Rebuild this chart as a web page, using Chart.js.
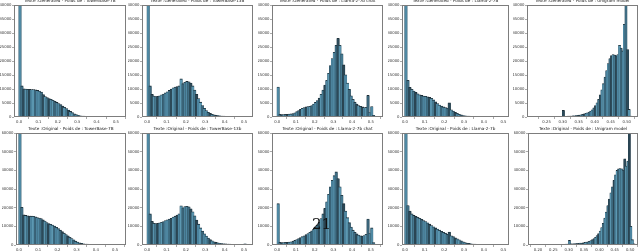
<!DOCTYPE html>
<html>
<head>
<meta charset="utf-8">
<script src="https://cdn.jsdelivr.net/npm/chart.js@4.4.1/dist/chart.umd.min.js"></script>
<style>
  html, body { margin: 0; padding: 0; background: #fff; }
  #figure { position: relative; width: 640px; height: 251px; overflow: hidden; }
  #figure canvas { position: absolute; }
  #pageNumber {
    position: absolute; left: 312px; top: 215px; z-index: 5;
    font-family: "DejaVu Serif", "Liberation Serif", serif; font-size: 15px; color: #111;
  }
</style>
</head>
<body>
<div id="figure"><div id="pageNumber">21</div></div>
<script>
// Histogram counts (bin width 0.01 from 0, unigram panels 0.005)
const genTower7b = [41000, 11000, 10000, 9900, 9800, 9800, 9700, 9700, 9600, 9400, 9200, 8800, 7900, 7200, 6800, 6500, 6200, 5900, 5500, 5100, 4700, 4300, 3800, 3400, 2900, 2400, 1900, 1450, 1050, 750, 500, 350, 260, 200, 160, 130, 110, 90, 80, 70, 60, 50, 45, 40, 35, 30, 25, 20, 20, 15, 15, 10, 10];
const genTower13b = [41000, 11000, 8000, 7400, 7200, 7300, 7500, 7800, 8100, 8500, 8900, 9400, 9900, 10300, 10600, 10800, 11000, 13500, 11800, 12300, 12600, 12500, 12000, 11000, 9500, 8000, 6500, 5200, 4000, 3000, 2200, 1600, 1200, 850, 650, 500, 400, 320, 260, 210, 170, 140, 120, 100, 90, 80, 70, 60, 50, 80, 150, 40, 20];
const genLlamaChat = [10600, 900, 800, 800, 850, 900, 950, 1000, 1100, 1400, 1800, 2200, 2600, 3000, 3300, 3500, 3600, 3700, 4000, 4500, 5100, 5800, 6700, 8000, 9500, 11300, 13000, 15500, 18300, 20800, 23000, 25500, 28000, 25500, 22500, 18500, 15000, 12000, 9800, 7500, 6200, 5200, 4500, 4000, 3700, 3500, 3300, 3400, 7600, 1500, 3600, 500];
const genLlama7b = [41000, 13000, 10500, 9800, 9200, 8700, 8200, 7800, 7600, 7400, 7300, 7100, 6900, 6600, 6000, 5300, 4700, 4200, 3800, 3500, 3300, 3100, 5000, 2500, 2000, 1600, 1200, 900, 650, 450, 330, 250, 200, 160, 130, 110, 95, 80, 70, 60, 55, 50, 45, 40, 35, 30, 25, 20, 15, 10];
const genUnigram = [10, 15, 20, 25, 30, 30, 35, 40, 40, 45, 50, 55, 60, 65, 70, 75, 80, 90, 100, 110, 120, 130, 2250, 160, 180, 200, 220, 250, 290, 340, 420, 520, 620, 720, 850, 1000, 1200, 1400, 1650, 2000, 2500, 3200, 4000, 5000, 6200, 7800, 9600, 11800, 14200, 16500, 19000, 20800, 21800, 22200, 22000, 21800, 22200, 25500, 24500, 23500, 33000, 41000, 24000, 2600, 240, 30];

const origTower7b = [62000, 20000, 16000, 15700, 15500, 15400, 15300, 15200, 15000, 14600, 14300, 14000, 13300, 12700, 11900, 11300, 10900, 10500, 10000, 9300, 8600, 7800, 7000, 6200, 5500, 4800, 4000, 3300, 2600, 1900, 1400, 1000, 700, 500, 380, 300, 240, 190, 150, 120, 100, 80, 70, 60, 50, 45, 40, 35, 30, 25, 20, 15, 10];
const origTower13b = [62000, 16500, 12500, 11500, 11300, 11400, 11700, 12000, 12400, 12900, 13400, 13800, 14200, 14800, 15300, 15900, 16600, 20800, 19800, 20400, 20600, 20300, 19200, 17600, 15500, 13200, 11000, 9000, 7300, 5900, 4600, 3600, 2800, 2100, 1600, 1250, 1000, 800, 650, 520, 420, 350, 300, 250, 210, 180, 160, 140, 120, 200, 450, 100, 40];
const origLlamaChat = [22000, 1300, 1200, 1200, 1250, 1300, 1400, 1600, 1900, 2300, 2800, 3300, 3800, 4300, 4800, 5400, 6000, 6700, 7500, 8300, 9300, 10500, 12000, 14000, 16500, 19500, 23000, 27000, 31000, 34500, 37000, 39000, 35500, 31000, 26500, 22000, 18000, 14500, 11800, 9500, 7800, 6700, 5800, 5200, 4800, 4600, 4900, 5600, 13800, 6000, 9000, 1200];
const origLlama7b = [62000, 21000, 18000, 16500, 15700, 15200, 14700, 14200, 13600, 13000, 12400, 11700, 11000, 10300, 9600, 9000, 8400, 7800, 7200, 6700, 6200, 5600, 6800, 4800, 4300, 3700, 3200, 2600, 2100, 1600, 1200, 900, 700, 520, 400, 320, 260, 210, 170, 140, 120, 100, 85, 70, 60, 50, 40, 30, 20, 15];
const origUnigram = [10, 15, 20, 25, 30, 35, 40, 45, 50, 55, 60, 70, 80, 90, 100, 110, 120, 140, 160, 180, 200, 220, 250, 280, 310, 350, 2300, 420, 480, 540, 600, 680, 760, 850, 950, 1080, 1220, 1380, 1550, 1800, 2200, 2700, 3300, 4000, 4900, 6000, 7300, 9200, 11500, 14300, 17500, 21000, 24500, 27800, 31000, 34500, 37500, 39800, 40700, 40800, 40700, 40000, 46000, 42100, 44800, 62000, 9900, 2700, 540, 60];

const genTitles = [
  'Texte :Generated - Poids de : TowerBase-7B',
  'Texte :Generated - Poids de : TowerBase-13B',
  'Texte :Generated - Poids de : Llama-2-7b chat',
  'Texte :Generated - Poids de : Llama-2-7B',
  'Texte :Generated - Poids de : Unigram model'
];
const origTitles = [
  'Texte :Original - Poids de : TowerBase-7B',
  'Texte :Original - Poids de : TowerBase-13b',
  'Texte :Original - Poids de : Llama-2-7b chat',
  'Texte :Original - Poids de : Llama-2-7b',
  'Texte :Original - Poids de : Unigram model'
];

const xTicksMain = [0.0, 0.1, 0.2, 0.3, 0.4, 0.5];
const xTicksUniGen = [0.25, 0.30, 0.35, 0.40, 0.45, 0.50];
const xTicksUniOrig = [0.20, 0.25, 0.30, 0.35, 0.40, 0.45, 0.50];
const yTicksGen = [0, 5000, 10000, 15000, 20000, 25000, 30000, 35000, 40000];
const yTicksOrig = [0, 10000, 20000, 30000, 40000, 50000, 60000];

// bar shades (matplotlib bars with dark edges look striped at this size)
const barShades = ['#4f88a2', '#3f6d83', '#2c4a59', '#5893ad', '#45788f', '#2a4553', '#4d85a0', '#5c98b2', '#3a6479', '#4b829c'];
const FONT = 'DejaVu Sans, Verdana, sans-serif';

const panels = [
  { counts: genTower7b, title: genTitles[0], binStart: 0, binWidth: 0.01, xMin: -0.026, xMax: 0.552, xTicks: xTicksMain, digits: 1, yTicks: yTicksGen, left: 14, right: 126, top: 5, bottom: 117 },
  { counts: genTower13b, title: genTitles[1], binStart: 0, binWidth: 0.01, xMin: -0.027, xMax: 0.546, xTicks: xTicksMain, digits: 1, yTicks: yTicksGen, left: 142, right: 253, top: 5, bottom: 117 },
  { counts: genLlamaChat, title: genTitles[2], binStart: 0, binWidth: 0.01, xMin: -0.028, xMax: 0.565, xTicks: xTicksMain, digits: 1, yTicks: yTicksGen, left: 272, right: 383, top: 5, bottom: 117 },
  { counts: genLlama7b, title: genTitles[3], binStart: 0, binWidth: 0.01, xMin: -0.015, xMax: 0.528, xTicks: xTicksMain, digits: 1, yTicks: yTicksGen, left: 402, right: 509, top: 5, bottom: 117 },
  { counts: genUnigram, title: genTitles[4], binStart: 0.19, binWidth: 0.005, xMin: 0.189, xMax: 0.535, xTicks: xTicksUniGen, digits: 2, yTicks: yTicksGen, left: 527, right: 638, top: 5, bottom: 117 },
  { counts: origTower7b, title: origTitles[0], binStart: 0, binWidth: 0.01, xMin: -0.0155, xMax: 0.557, xTicks: xTicksMain, digits: 1, yTicks: yTicksOrig, left: 16, right: 126, top: 133, bottom: 245 },
  { counts: origTower13b, title: origTitles[1], binStart: 0, binWidth: 0.01, xMin: -0.027, xMax: 0.546, xTicks: xTicksMain, digits: 1, yTicks: yTicksOrig, left: 142, right: 253, top: 133, bottom: 245 },
  { counts: origLlamaChat, title: origTitles[2], binStart: 0, binWidth: 0.01, xMin: -0.028, xMax: 0.565, xTicks: xTicksMain, digits: 1, yTicks: yTicksOrig, left: 272, right: 383, top: 133, bottom: 245 },
  { counts: origLlama7b, title: origTitles[3], binStart: 0, binWidth: 0.01, xMin: -0.015, xMax: 0.528, xTicks: xTicksMain, digits: 1, yTicks: yTicksOrig, left: 402, right: 509, top: 133, bottom: 245 },
  { counts: origUnigram, title: origTitles[4], binStart: 0.17, binWidth: 0.005, xMin: 0.1675, xMax: 0.5256, xTicks: xTicksUniOrig, digits: 2, yTicks: yTicksOrig, left: 528, right: 638, top: 133, bottom: 245 }
];

// frame + title drawn around the chart area, like matplotlib axes
const panelFrame = {
  id: 'panelFrame',
  afterDraw(chart, args, opts) {
    const { ctx, chartArea: a } = chart;
    ctx.save();
    ctx.strokeStyle = '#7d7d7d';
    ctx.lineWidth = 1;
    ctx.strokeRect(a.left + 0.5, a.top + 0.5, a.right - a.left - 1, a.bottom - a.top - 1);
    ctx.fillStyle = '#222';
    ctx.font = '4.2px ' + FONT;
    ctx.textAlign = 'center';
    ctx.textBaseline = 'middle';
    ctx.fillText(opts.title, (a.left + a.right) / 2, a.top - 4);
    ctx.restore();
  }
};

const fig = document.getElementById('figure');
const PAD_TOP = 8, AXIS_W = 14, AXIS_H = 8;

panels.forEach(p => {
  const canvas = document.createElement('canvas');
  canvas.width = p.right - p.left + AXIS_W;
  canvas.height = p.bottom - p.top + PAD_TOP + AXIS_H;
  canvas.style.left = (p.left - AXIS_W) + 'px';
  canvas.style.top = (p.top - PAD_TOP) + 'px';
  fig.insertBefore(canvas, fig.firstChild);

  const points = p.counts.map((v, i) => ({ x: p.binStart + (i + 0.5) * p.binWidth, y: v }));
  const yMax = p.yTicks[p.yTicks.length - 1];

  new Chart(canvas, {
    type: 'bar',
    data: {
      datasets: [{
        data: points,
        backgroundColor: ctx => barShades[ctx.dataIndex % barShades.length],
        borderColor: '#1c2c35',
        // tiny side borders so inflateAmount widens the bars and closes the seams
        borderWidth: { top: 0.8, left: 0.01, right: 0.01, bottom: 0 },
        barPercentage: 1,
        categoryPercentage: 1,
        inflateAmount: 0.6,
        clip: 0
      }]
    },
    options: {
      responsive: false,
      animation: false,
      devicePixelRatio: 1,
      layout: { padding: { top: PAD_TOP, left: 0, right: 0, bottom: 0 } },
      plugins: {
        legend: { display: false },
        tooltip: { enabled: false },
        panelFrame: { title: p.title }
      },
      scales: {
        x: {
          type: 'linear',
          min: p.xMin,
          max: p.xMax,
          offset: false,
          afterBuildTicks: s => { s.ticks = p.xTicks.map(v => ({ value: v })); },
          afterFit: s => { s.height = AXIS_H; },
          ticks: {
            font: { size: 3.8, family: FONT },
            color: '#333',
            padding: 0.5,
            maxRotation: 0,
            autoSkip: false,
            callback: v => Number(v).toFixed(p.digits)
          },
          grid: { drawOnChartArea: false, tickLength: 2, color: '#555', lineWidth: 0.5 },
          border: { display: false }
        },
        y: {
          min: 0,
          max: yMax,
          afterBuildTicks: s => { s.ticks = p.yTicks.map(v => ({ value: v })); },
          afterFit: s => { s.width = AXIS_W; },
          ticks: {
            font: { size: 3.8, family: FONT },
            color: '#333',
            padding: 0.5,
            autoSkip: false,
            callback: v => String(v)
          },
          grid: { drawOnChartArea: false, tickLength: 2, color: '#555', lineWidth: 0.5 },
          border: { display: false }
        }
      }
    },
    plugins: [panelFrame]
  });
});
</script>
</body>
</html>
